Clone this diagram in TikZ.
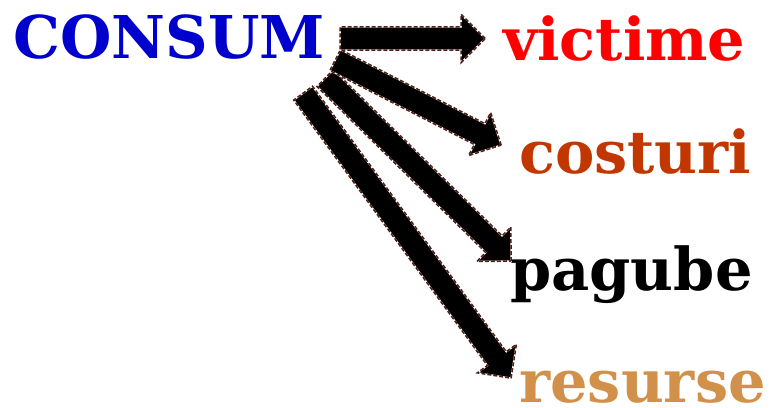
\documentclass[tikz,border=0pt]{standalone}
\usepackage{fontspec}
\setmainfont{DejaVu Serif}
\usetikzlibrary{shapes.arrows,calc}

\definecolor{consumblue}{RGB}{0,0,204}
\definecolor{victimered}{RGB}{255,0,0}
\definecolor{costurirust}{RGB}{194,54,0}
\definecolor{resursetan}{RGB}{210,145,75}
\definecolor{arrowbrown}{RGB}{80,30,20}

\tikzset{
  word/.style={font=\bfseries\fontsize{59}{59}\selectfont, inner sep=0pt, anchor=base west},
  fatarrow/.style={single arrow, fill=black, inner xsep=0pt, inner ysep=11.5pt,
    single arrow head extend=12.5pt, minimum width=0pt,
    postaction={draw=white, line width=1.5pt},
    postaction={draw=arrowbrown, line width=1.5pt, dash pattern=on 4pt off 2pt}}
}

% fat arrow from one named point to another
\newcommand{\fatlink}[2]{%
  \path let \p1=($(#2)-(#1)$), \n1={atan2(\y1,\x1)}, \n2={veclen(\x1,\y1)} in
    node[fatarrow, rotate=\n1, minimum height=\n2, anchor=tail] at (#1) {};}

\begin{document}
\begin{tikzpicture}[x=1pt,y=-1pt]
  \useasboundingbox (0,0) rectangle (771,407);

  %% words
  \node[word, text=consumblue] (consum) at (13,58) {CONSUM};
  \node[word, text=victimered] (victime) at (503,60) {victime};
  \node[word, text=costurirust] (costuri) at (519,173) {costuri};
  \node[word, text=black] (pagube) at (510,290) {pagube};
  \node[word, text=resursetan] (resurse) at (519,402) {resurse};

  %% arrow ends
  \coordinate (t1) at (340,38.5);
  \coordinate (h1) at (485,38.5);
  \coordinate (t2) at (335,60);
  \coordinate (h2) at (501,145);
  \coordinate (t3) at (325,78);
  \coordinate (h3) at (511,261);
  \coordinate (t4) at (303,93);
  \coordinate (h4) at (511,378);

  %% arrows
  \fatlink{t4}{h4}
  \fatlink{t3}{h3}
  \fatlink{t2}{h2}
  \fatlink{t1}{h1}
\end{tikzpicture}
\end{document}
